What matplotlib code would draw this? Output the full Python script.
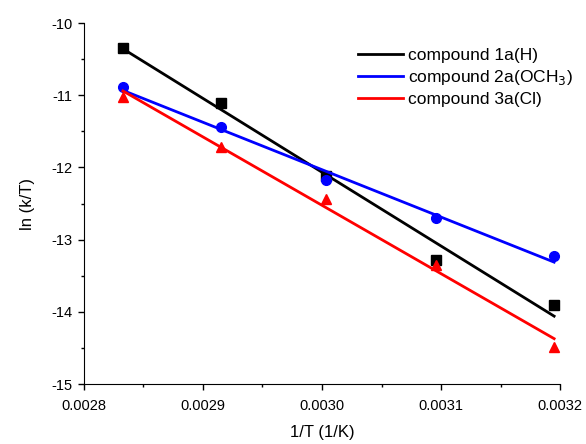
import numpy as np
from matplotlib import pyplot as plt
from matplotlib.ticker import MultipleLocator

plt.rcParams['font.family'] = ['Liberation Sans', 'DejaVu Sans']

# =============================================================================
# data
# =============================================================================
inv_T = [1/353, 1/343, 1/333, 1/323, 1/313]
ln_h = [-10.35, -11.11, -12.12, -13.28, -13.90]
ln_ome = [-10.88, -11.44, -12.18, -12.70, -13.23]
ln_cl = [-11.03, -11.72, -12.43, -13.35, -14.49]
labels = ['compound 1a(H)', 'compound 2a(OCH$_3$)', 'compound 3a(Cl)']

# =============================================================================
# plot
# =============================================================================
fig = plt.figure(figsize=(5.86, 4.44), dpi=100)
ax = fig.add_axes([0.143, 0.135, 0.813, 0.813])

x = np.array(inv_T)
for y, c, m, lab in zip([ln_h, ln_ome, ln_cl], ['black', 'blue', 'red'],
                        ['s', 'o', '^'], labels):
    y = np.array(y)
    p = np.polyfit(x, y, 1)
    ax.plot(x, np.polyval(p, x), color=c, lw=2, label=lab)
    ax.plot(x, y, m, color=c, ms=7, ls='none')

ax.set_xlim(0.0028, 0.0032)
ax.set_ylim(-15, -10)
ax.xaxis.set_major_locator(MultipleLocator(0.0001))
ax.xaxis.set_minor_locator(MultipleLocator(0.00005))
ax.yaxis.set_major_locator(MultipleLocator(1))
ax.yaxis.set_minor_locator(MultipleLocator(0.5))
ax.xaxis.set_major_formatter(plt.FuncFormatter(lambda v, pos: '%.4f' % v))
ax.yaxis.set_major_formatter(plt.FuncFormatter(lambda v, pos: '%d' % round(v)))
ax.tick_params(which='major', length=4.5, width=1, labelsize=10.5, direction='out')
ax.tick_params(which='minor', length=2.5, width=1, direction='out')
ax.tick_params(axis='x', which='major', pad=6)
ax.spines['top'].set_visible(False)
ax.spines['right'].set_visible(False)
ax.set_xlabel('1/T (1/K)', fontsize=12, labelpad=9)
ax.set_ylabel('ln (k/T)', fontsize=12, labelpad=12)

ax.legend(loc='upper right', bbox_to_anchor=(1.06, 0.975), frameon=False,
          fontsize=12.5, handlelength=2.6, handletextpad=0.3, labelspacing=0.3)

fig.savefig('out.png', dpi=100)
